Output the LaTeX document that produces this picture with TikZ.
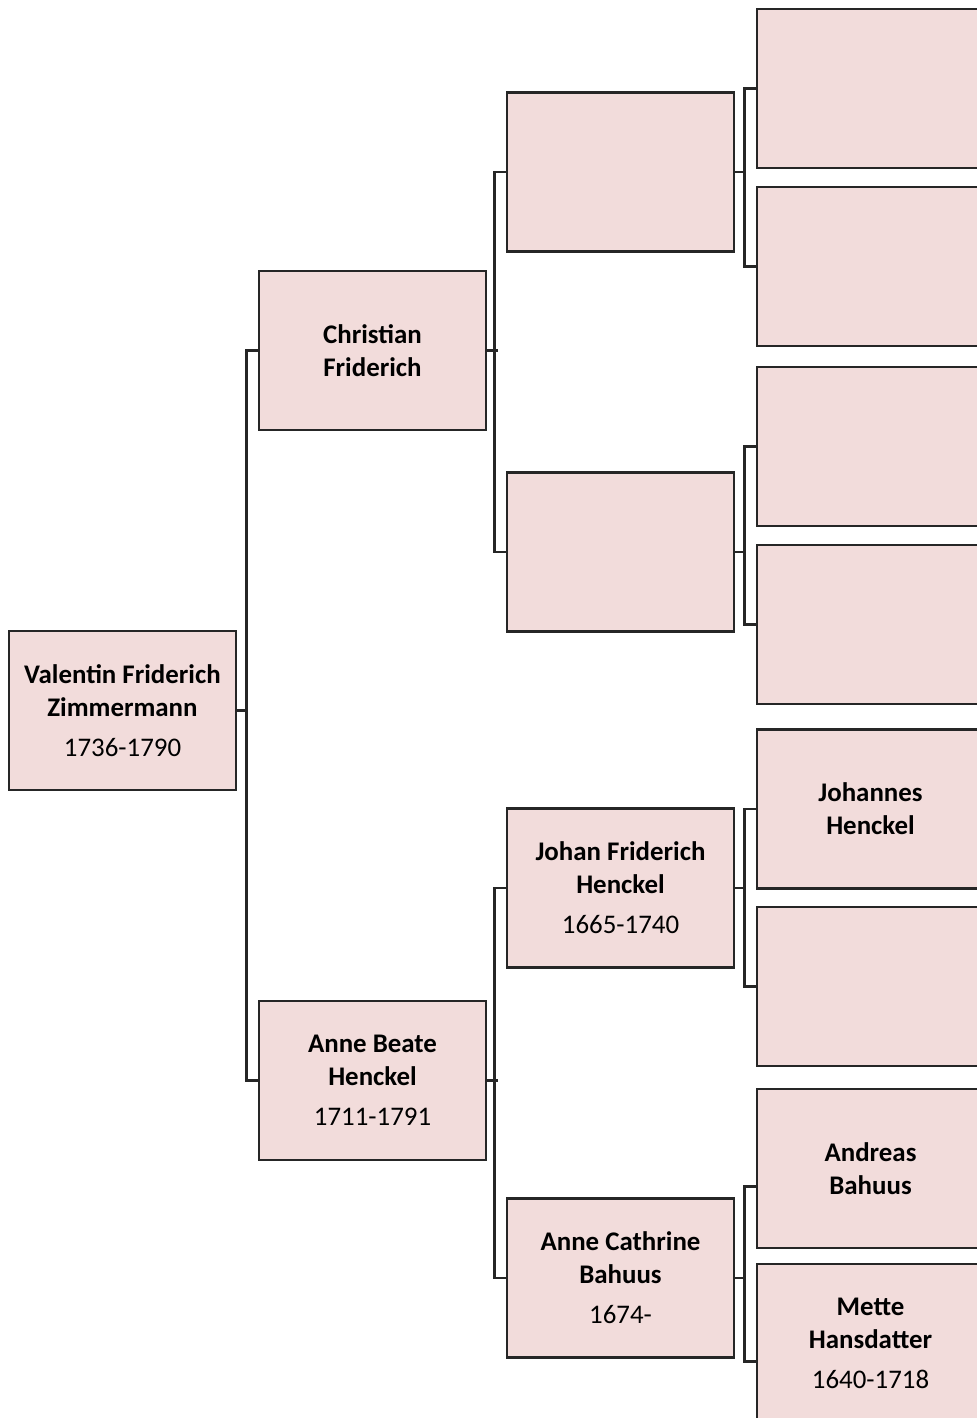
\documentclass[tikz,border=0pt]{standalone}
\usepackage{fontspec}
\setmainfont{Carlito}
\usepackage{xcolor}
\definecolor{boxfill}{HTML}{F2DCDB}
\definecolor{boxline}{HTML}{262626}
\newcommand\namefont{\fontsize{15.3}{18.8}\selectfont\bfseries}
\newcommand\yearfont{\fontsize{15.3}{18.8}\selectfont\mdseries}
\tikzset{
person/.style={draw=boxline,line width=1.5pt,fill=boxfill,minimum width=4.54cm,minimum height=3.18cm,inner sep=0pt,align=center,font=\namefont},
link/.style={draw=boxline,line width=1.6pt}
}

\begin{document}
\begin{tikzpicture}[x=0.02cm,y=-0.02cm]

\useasboundingbox (0,0) rectangle (977,1418);
\clip (0,0) rectangle (977,1418);

% generation 0 and 1
\node[person] (v) at (122.5,710.5) {Valentin Friderich\\Zimmermann\\[4pt]\yearfont 1736-1790};
\node[person] (cf) at (372.5,350.5) {Christian\\Friderich};
\node[person] (ab) at (372.5,1080.5) {Anne Beate\\Henckel\\[4pt]\yearfont 1711-1791};

% generation 2
\node[person] (p1) at (620.5,172) {};
\node[person] (p2) at (620.5,552) {};
\node[person] (jf) at (620.5,888) {Johan Friderich\\Henckel\\[4pt]\yearfont 1665-1740};
\node[person] (ac) at (620.5,1278) {Anne Cathrine\\Bahuus\\[4pt]\yearfont 1674-};

% generation 3
\node[person] (g1) at (870.5,88.5) {};
\node[person] (g2) at (870.5,266.5) {};
\node[person] (g3) at (870.5,446.5) {};
\node[person] (g4) at (870.5,624.5) {};
\node[person] (g5) at (870.5,809) {Johannes\\Henckel};
\node[person] (g6) at (870.5,986.5) {};
\node[person] (g7) at (870.5,1168.5) {Andreas\\Bahuus};
\node[person] (g8) at (870.5,1343.5) {Mette\\Hansdatter\\[4pt]\yearfont 1640-1718};

\foreach \p/\a/\b/\s in {v/cf/ab/0,cf/p1/p2/0,ab/jf/ac/0,p1/g1/g2/0,p2/g3/g4/0,jf/g5/g6/0,ac/g7/g8/-0.36}
{
\draw[link] (\p.east) -- ++(11,0);
\draw[link] ([yshift=\s cm]\a.west) -- ++(-11.5,0) |- ([yshift=\s cm]\b.west);
}
\end{tikzpicture}
\end{document}
